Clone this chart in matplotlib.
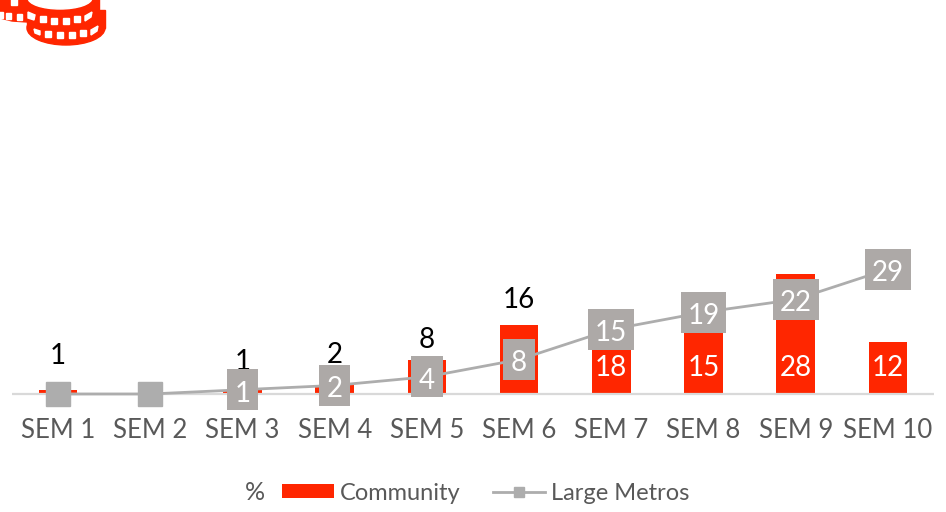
import matplotlib
matplotlib.use("Agg")
import matplotlib.pyplot as plt
from matplotlib.offsetbox import AnnotationBbox, DrawingArea
from matplotlib.patches import Ellipse, Rectangle, Polygon

plt.rcParams["font.family"] = ["Lato", "DejaVu Sans"]

categories = ["SEM 1", "SEM 2", "SEM 3", "SEM 4", "SEM 5",
              "SEM 6", "SEM 7", "SEM 8", "SEM 9", "SEM 10"]
community = [1, 0, 1, 2, 8, 16, 18, 15, 28, 12]
large_metros = [0, 0, 1, 2, 4, 8, 15, 19, 22, 29]

RED = "#FF2600"
GREY = "#ADA9A7"
LINE_GREY = "#ADADAD"
TEXT_GREY = "#595959"

# label height above the bar top, in points (0 = white label inside the bar)
label_offsets = [24, None, 20, 22, 14, 18, 0, 0, 0, 0]

fig = plt.figure(figsize=(9.46, 5.12), dpi=100)
ax = fig.add_axes([12 / 946, 1 - 394 / 512, 922 / 946, 394 / 512])
x = list(range(len(categories)))

bars = ax.bar(x, community, width=0.42, color=RED, zorder=2, label="Community")
line, = ax.plot(x, large_metros, color=LINE_GREY, lw=2, marker="s", ms=17, mec=LINE_GREY,
                zorder=3, clip_on=False, label="Large Metros")

for i, (v, off) in enumerate(zip(community, label_offsets)):
    if off is None:
        continue
    if off == 0:
        ax.annotate(str(v), (i, 0), xytext=(0, 18.5), textcoords="offset points",
                    ha="center", va="center", color="white", fontsize=20, zorder=4)
    else:
        ax.annotate(str(v), (i, v), xytext=(0, off), textcoords="offset points",
                    ha="center", va="center", color="black", fontsize=20, zorder=2.5)

for i, v in enumerate(large_metros):
    if v == 0:
        continue
    # fixed size label boxes, one width for one digit and one for two
    w = 33 if v >= 10 else 22.5
    da = DrawingArea(w, 29.5, 0, 0)
    da.add_artist(Rectangle((0, 0), w, 29.5, fc=GREY, ec="none"))
    ab = AnnotationBbox(da, (i, v), frameon=False, pad=0, box_alignment=(0.5, 0.5), zorder=4.5)
    ax.add_artist(ab)
    ax.annotate(str(v), (i, v), xytext=(0, -1), textcoords="offset points", ha="center",
                va="center_baseline", color="white", fontsize=20, zorder=5)

ax.set_xlim(-0.5, 9.5)
ax.set_ylim(0, 91.6)
ax.set_xticks(x)
ax.set_xticklabels(categories, fontsize=18.5, color=TEXT_GREY)
ax.tick_params(axis="x", length=0, pad=17)
ax.set_yticks([])
for s in ["top", "left", "right"]:
    ax.spines[s].set_visible(False)
ax.spines["bottom"].set_color("#D9D9D9")
ax.spines["bottom"].set_linewidth(1.6)
ax.spines["bottom"].set_capstyle("butt")
ax.patch.set_alpha(0)

leg = fig.legend(handles=[bars, line], loc="center", bbox_to_anchor=(485.5 / 946, 1 - 493 / 512),
                 ncol=2, frameon=False, fontsize=17, labelcolor=TEXT_GREY,
                 handlelength=2.2, handleheight=0.5, handletextpad=0.25,
                 columnspacing=1.4, markerscale=0.45)
fig.text(255 / 946, 1 - 492 / 512, "%", fontsize=18, color=TEXT_GREY, ha="center", va="center")

# coin icon, top left corner, drawn in pixel coordinates
icon = fig.add_axes([0, 0, 1, 1], zorder=6)
icon.set_xlim(0, 946)
icon.set_ylim(512, 0)
icon.axis("off")
icon.patch.set_alpha(0)

icon.add_patch(Polygon([(0, 0), (27, 0), (27, 22), (12, 21), (0, 18)], color=RED))
for sx, sy, sw in [(14, 2, 6), (1, 15, 4), (8, 16, 5), (19, 17, 5)]:
    icon.add_patch(Rectangle((sx - sw / 2, sy - 3), sw, 6, color="white"))

icon.add_patch(Ellipse((66, 28), 78, 34, color=RED))
icon.add_patch(Rectangle((27, 10), 78, 18, color=RED))
icon.add_patch(Rectangle((27, -5), 72, 22, color=RED))
icon.add_patch(Ellipse((60, -2), 64, 22, color="white"))
for sx, sy in [(43, 19), (54, 21), (66, 21), (77, 19)]:
    icon.add_patch(Rectangle((sx - 3, sy - 3), 6, 6, color="white"))
for sx, sy in [(48, 34), (60, 35), (72, 35), (83, 33)]:
    icon.add_patch(Rectangle((sx - 3, sy - 3), 6, 6, color="white"))
icon.add_patch(Polygon([(28, 12), (35, 15), (34, 20), (28, 18)], color="white"))
icon.add_patch(Polygon([(85, 16), (92, 12), (91, 17), (85, 21)], color="white"))
icon.add_patch(Polygon([(34, 29), (40, 31), (40, 35), (35, 33)], color="white"))
icon.add_patch(Polygon([(91, 30), (98, 26), (97, 31), (91, 35)], color="white"))

fig.savefig("out.png", dpi=100)
